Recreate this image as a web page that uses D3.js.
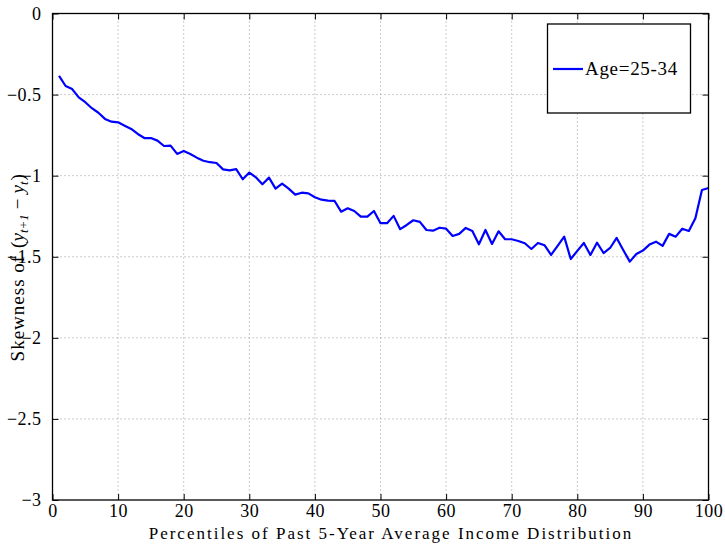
<!DOCTYPE html>
<html>
<head>
<meta charset="utf-8">
<script src="https://cdn.jsdelivr.net/npm/d3@7"></script>
<style>
  html, body { margin: 0; padding: 0; background: #fff; }
  svg { display: block; }
  svg text { font-family: "Liberation Serif", "DejaVu Serif", serif !important; fill: #000; }
</style>
</head>
<body>
<svg id="chart" width="725" height="544"></svg>
<script>
// Percentile of past 5-year average income (1..100)
const percentiles = d3.range(1, 101);

// Skewness of one-year income growth, ages 25-34
const skewAge25to34 = [
  -0.385, -0.447, -0.466, -0.517, -0.547, -0.584, -0.612, -0.650, -0.667, -0.671,
  -0.692, -0.712, -0.743, -0.768, -0.768, -0.784, -0.817, -0.815, -0.866, -0.848,
  -0.866, -0.889, -0.908, -0.917, -0.922, -0.961, -0.967, -0.960, -1.022, -0.981,
  -1.010, -1.053, -1.012, -1.080, -1.049, -1.080, -1.117, -1.105, -1.109, -1.133,
  -1.148, -1.154, -1.156, -1.222, -1.201, -1.218, -1.253, -1.253, -1.218, -1.293,
  -1.293, -1.248, -1.330, -1.304, -1.275, -1.285, -1.335, -1.339, -1.321, -1.327,
  -1.372, -1.359, -1.322, -1.341, -1.423, -1.335, -1.421, -1.343, -1.392, -1.392,
  -1.403, -1.417, -1.452, -1.415, -1.429, -1.489, -1.433, -1.376, -1.514, -1.464,
  -1.415, -1.489, -1.413, -1.477, -1.446, -1.384, -1.458, -1.530, -1.483, -1.462,
  -1.425, -1.407, -1.433, -1.359, -1.376, -1.327, -1.341, -1.263, -1.088, -1.076
];

const xTicks = [0, 10, 20, 30, 40, 50, 60, 70, 80, 90, 100];
const yTicks = [0, -0.5, -1, -1.5, -2, -2.5, -3];
const seriesLabel = "Age=25-34";
const xLabel = "Percentiles of Past 5-Year Average Income Distribution";

const svg = d3.select("#chart");
const plotLeft = 52.5, plotRight = 708.5, plotTop = 13.5, plotBottom = 500;

const x = d3.scaleLinear().domain([0, 100]).range([plotLeft, plotRight]);
const y = d3.scaleLinear().domain([-3, 0]).range([plotBottom, plotTop]);

const fmt = v => (v < 0 ? "\u2212" : "") + Math.abs(v);

// dotted grid
const grid = svg.append("g");
grid.selectAll("line.gx").data(xTicks.filter(t => t > 0 && t < 100)).join("line")
  .attr("x1", d => x(d)).attr("x2", d => x(d))
  .attr("y1", plotTop).attr("y2", plotBottom)
  .attr("stroke", "#9a9a9a").attr("stroke-width", 1).attr("stroke-dasharray", "1,3");
grid.selectAll("line.gy").data(yTicks.filter(t => t < 0 && t > -3)).join("line")
  .attr("y1", d => y(d)).attr("y2", d => y(d))
  .attr("x1", plotLeft).attr("x2", plotRight)
  .attr("stroke", "#9a9a9a").attr("stroke-width", 1).attr("stroke-dasharray", "1,3");

// data line
const line = d3.line().x((d, i) => x(percentiles[i])).y(d => y(d));
svg.append("path")
  .datum(skewAge25to34)
  .attr("d", line)
  .attr("fill", "none")
  .attr("stroke", "#0000ff")
  .attr("stroke-width", 2.2)
  .attr("stroke-linejoin", "round");

// axes with inward ticks on all four sides
const tickLen = 6;
const axB = svg.append("g").attr("transform", `translate(0,${plotBottom})`)
  .call(d3.axisBottom(x).tickValues(xTicks).tickSize(-tickLen).tickPadding(3).tickFormat(d => d));
const axT = svg.append("g").attr("transform", `translate(0,${plotTop})`)
  .call(d3.axisTop(x).tickValues(xTicks).tickSize(-tickLen).tickFormat(""));
const axL = svg.append("g").attr("transform", `translate(${plotLeft},0)`)
  .call(d3.axisLeft(y).tickValues(yTicks).tickSize(-tickLen).tickPadding(10).tickFormat(fmt));
const axR = svg.append("g").attr("transform", `translate(${plotRight},0)`)
  .call(d3.axisRight(y).tickValues(yTicks).tickSize(-tickLen).tickFormat(""));

[axB, axT, axL, axR].forEach(g => {
  g.attr("font-family", null).attr("font-size", null);
  g.select(".domain").remove();
  g.selectAll(".tick line").attr("stroke", "#000").attr("stroke-width", 1);
  g.selectAll(".tick text").style("font-size", "18px").attr("fill", "#000");
});
axB.selectAll(".tick text").attr("dy", "0.8em").attr("letter-spacing", "0.5px");
axL.selectAll(".tick text").attr("dx", "-0.05em").attr("letter-spacing", "0.5px");

// plot frame
svg.append("rect")
  .attr("x", plotLeft).attr("y", plotTop)
  .attr("width", plotRight - plotLeft).attr("height", plotBottom - plotTop)
  .attr("fill", "none").attr("stroke", "#000").attr("stroke-width", 1.3);

// x label
svg.append("text")
  .attr("x", 391).attr("y", 539)
  .attr("text-anchor", "middle")
  .style("font-size", "17px")
  .attr("letter-spacing", "2px")
  .text(xLabel);

// y label: pieces laid out one after another along a rotated baseline
const ylParts = [
  { t: "Skewness of", size: 19, italic: false, shift: 0, gap: 0, ls: 1 },
  { t: "(", size: 19, italic: false, shift: 0, gap: 7, ls: 0 },
  { t: "y", size: 19, italic: true, shift: 0, gap: 0, ls: 0 },
  { t: "t+1", size: 13, italic: true, shift: 4, gap: 0, ls: 0 },
  { t: "\u2212", size: 19, italic: false, shift: 0, gap: 5, ls: 0 },
  { t: "y", size: 19, italic: true, shift: 0, gap: 5, ls: 0 },
  { t: "t", size: 13, italic: true, shift: 4, gap: 0, ls: 0 },
  { t: ")", size: 19, italic: false, shift: 0, gap: 1, ls: 0 }
];
const ylG = svg.append("g")
  .attr("transform", `translate(24,${(plotTop + plotBottom) / 2 + 11}) rotate(-90)`);
const pieces = ylParts.map(p => {
  const el = ylG.append("text")
    .style("font-size", p.size + "px")
    .style("font-style", p.italic ? "italic" : "normal")
    .attr("letter-spacing", p.ls + "px")
    .attr("y", p.shift)
    .text(p.t);
  return { el, w: el.node().getComputedTextLength(), gap: p.gap };
});
const ylTotal = pieces.reduce((s, p) => s + p.w + p.gap, 0);
let cursor = -ylTotal / 2;
pieces.forEach(p => {
  cursor += p.gap;
  p.el.attr("x", cursor);
  cursor += p.w;
});

// legend
const lg = svg.append("g");
lg.append("rect")
  .attr("x", 547.5).attr("y", 24)
  .attr("width", 143).attr("height", 89)
  .attr("fill", "#fff").attr("stroke", "#000").attr("stroke-width", 1.3);
lg.append("line")
  .attr("x1", 553).attr("x2", 583).attr("y1", 69).attr("y2", 69)
  .attr("stroke", "#0000ff").attr("stroke-width", 2.2);
lg.append("text")
  .attr("x", 585).attr("y", 75)
  .style("font-size", "19px")
  .attr("letter-spacing", "0.7px")
  .text(seriesLabel);
</script>
</body>
</html>
